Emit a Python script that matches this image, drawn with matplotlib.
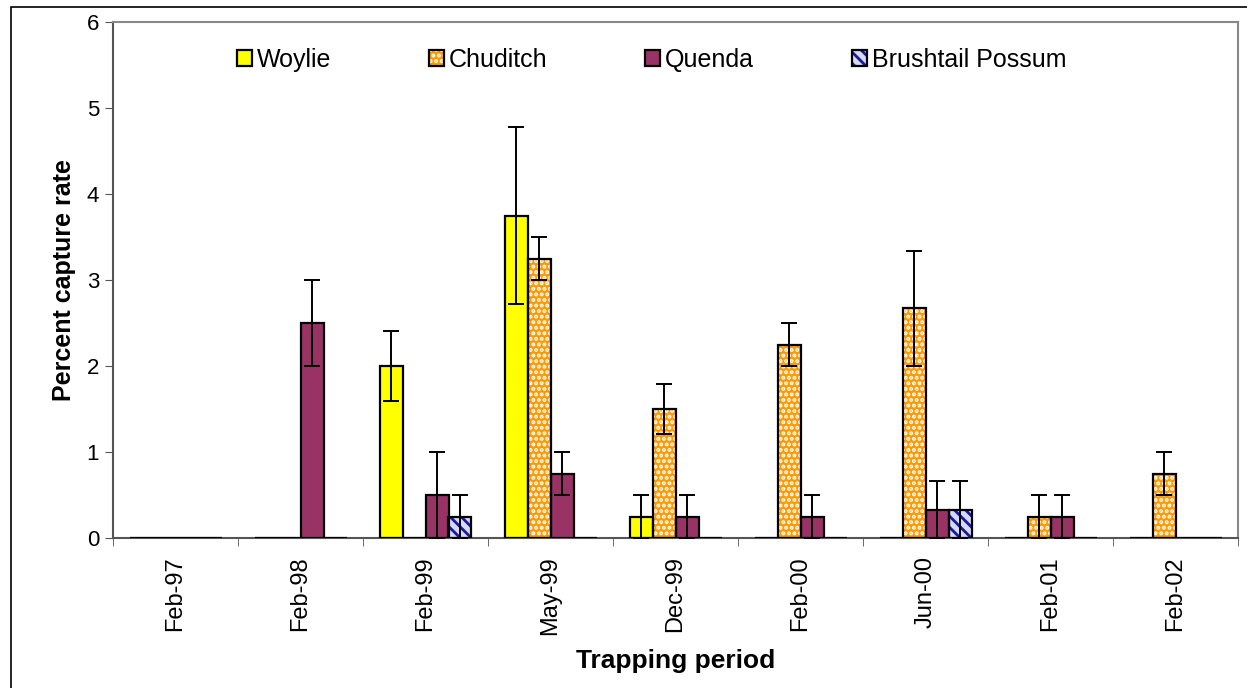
import numpy as np
import matplotlib.pyplot as plt
from matplotlib.patches import Rectangle
from matplotlib.legend_handler import HandlerTuple

plt.rcParams['font.family'] = ['Liberation Sans', 'DejaVu Sans']
plt.rcParams['hatch.linewidth'] = 2.0

periods = ['Feb-97', 'Feb-98', 'Feb-99', 'May-99', 'Dec-99', 'Feb-00', 'Jun-00', 'Feb-01', 'Feb-02']
species = ['Woylie', 'Chuditch', 'Quenda', 'Brushtail Possum']

woylie = [0, 0, 2.0, 3.75, 0.25, 0, 0, 0, 0]
woylie_err = [0, 0, 0.41, 1.03, 0.25, 0, 0, 0, 0]
chuditch = [0, 0, 0, 3.25, 1.5, 2.25, 2.67, 0.25, 0.75]
chuditch_err = [0, 0, 0, 0.25, 0.29, 0.25, 0.67, 0.25, 0.25]
quenda = [0, 2.5, 0.5, 0.75, 0.25, 0.25, 0.33, 0.25, 0]
quenda_err = [0, 0.5, 0.5, 0.25, 0.25, 0.25, 0.33, 0.25, 0]
possum = [0, 0, 0.25, 0, 0, 0, 0.33, 0, 0]
possum_err = [0, 0, 0.25, 0, 0, 0, 0.33, 0, 0]

values = [woylie, chuditch, quenda, possum]
errors = [woylie_err, chuditch_err, quenda_err, possum_err]
faces = ['#ffff00', '#ff9900', '#993366', '#d8d8ff']
hatch_cols = ['#ffff00', '#ffffff', '#993366', '#1a1a99']
hatches = [None, '...', None, '\\\\\\']

fig = plt.figure(figsize=(12.47, 6.88), dpi=100)
ax = fig.add_axes([113 / 1247, 1 - 538 / 688, 1125 / 1247, 516 / 688])

# outer frame of the chart area
fig.patches.append(Rectangle((11 / 1247, -0.1), 1.2, 1 - 7 / 688 + 0.1, transform=fig.transFigure,
                             fill=False, edgecolor='black', linewidth=1.2, zorder=0))

x = np.arange(len(periods))
w = 0.184
handles = []
for i, (vals, errs) in enumerate(zip(values, errors)):
    pos = x + (i - 1.5) * w
    fill = ax.bar(pos, vals, w, color=faces[i], edgecolor=hatch_cols[i], hatch=hatches[i],
                  linewidth=0, zorder=2)
    outline = ax.bar(pos, vals, w, fill=False, edgecolor='black', linewidth=1.6, zorder=3)
    ax.errorbar(pos, vals, yerr=[e if e > 0 else np.nan for e in errs], fmt='none',
                ecolor='black', elinewidth=1.4, capsize=6, capthick=1.4, zorder=4)
    handles.append((fill, outline))

ax.set_xlim(-0.5, len(periods) - 0.5)
ax.set_ylim(0, 6)
ax.set_yticks(range(0, 7))
ax.tick_params(axis='y', labelsize=16, length=6, color='#555555', pad=4)

ax.set_xticks(x)
ax.set_xticklabels(periods, rotation=90, fontsize=17)
ax.set_xticks(np.arange(-0.5, len(periods)), minor=True)
ax.tick_params(axis='x', which='major', length=0, pad=13)
ax.tick_params(axis='x', which='minor', length=6, color='#555555')

for s in ['top', 'right']:
    ax.spines[s].set_color('#888888')
    ax.spines[s].set_linewidth(1.5)
for s in ['left', 'bottom']:
    ax.spines[s].set_color('#555555')
    ax.spines[s].set_linewidth(1.5)

ax.set_ylabel('Percent capture rate', fontsize=18, fontweight='bold', labelpad=8)
ax.set_xlabel('Trapping period', fontsize=19, fontweight='bold', labelpad=10)

ax.legend(handles, species, handler_map={tuple: HandlerTuple(ndivide=1)}, ncol=4,
          frameon=False, loc='center', bbox_to_anchor=(0.479, 0.926), fontsize=18,
          handlelength=0.6, handleheight=0.6, handletextpad=0.2, columnspacing=3.9)

fig.savefig('out.png', dpi=100)
